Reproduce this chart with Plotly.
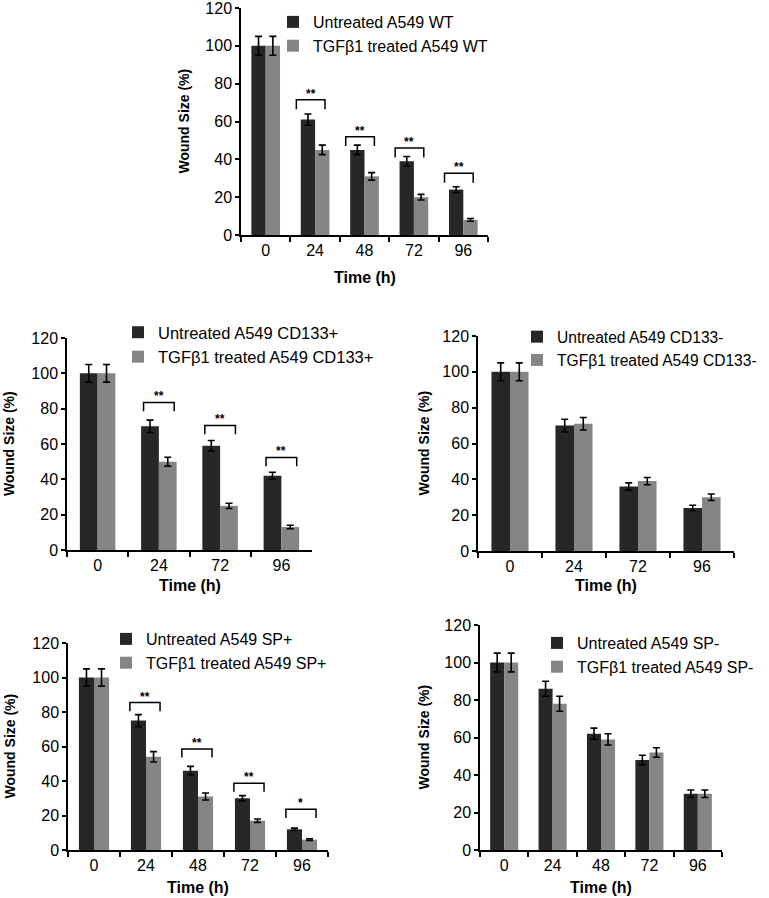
import plotly.graph_objects as go

# ---------------- data ----------------
# Panel 1: A549 WT
wt_time = ["0", "24", "48", "72", "96"]
wt_untreated = [100, 61, 45, 39, 24]
wt_untreated_err = [5, 3, 2.5, 2.5, 1.5]
wt_treated = [100, 45, 31, 20, 8]
wt_treated_err = [5, 2.5, 2, 1.5, 0.7]
wt_sig_time = ["24", "48", "72", "96"]
wt_sig_level = [71.5, 52, 46, 32.6]
wt_sig_label = ["**", "**", "**", "**"]

# Panel 2: A549 CD133+
cdp_time = ["0", "24", "72", "96"]
cdp_untreated = [100, 70, 59, 42]
cdp_untreated_err = [5, 3.5, 3, 2]
cdp_treated = [100, 50, 25, 13]
cdp_treated_err = [5, 2.5, 1.5, 1]
cdp_sig_time = ["24", "72", "96"]
cdp_sig_level = [83.5, 70.5, 52.4]
cdp_sig_label = ["**", "**", "**"]

# Panel 3: A549 CD133-
cdn_time = ["0", "24", "72", "96"]
cdn_untreated = [100, 70, 36, 24]
cdn_untreated_err = [5, 3.5, 2, 1.5]
cdn_treated = [100, 71, 39, 30]
cdn_treated_err = [5, 3.5, 2, 1.8]

# Panel 4: A549 SP+
spp_time = ["0", "24", "48", "72", "96"]
spp_untreated = [100, 75, 46, 30, 12]
spp_untreated_err = [5, 3.5, 2.5, 1.5, 0.7]
spp_treated = [100, 54, 31, 17, 6]
spp_treated_err = [5, 3, 2, 1, 0.5]
spp_sig_time = ["24", "48", "72", "96"]
spp_sig_level = [85.5, 58.6, 38.7, 23.6]
spp_sig_label = ["**", "**", "**", "*"]

# Panel 5: A549 SP-
spn_time = ["0", "24", "48", "72", "96"]
spn_untreated = [100, 86, 62, 48, 30]
spn_untreated_err = [5, 4, 3, 2.5, 2]
spn_treated = [100, 78, 59, 52, 30]
spn_treated_err = [5, 4, 3, 2.5, 2]

y_ticks = [0, 20, 40, 60, 80, 100, 120]
x_title = "Time (h)"
y_title = "Wound Size (%)"

# ---------------- style ----------------
DARK = "#272727"
GRAY = "#858585"
FONT = "Liberation Sans, Arial, sans-serif"

FW, FH = 769, 898


def px2x(px):
    return px / FW


def py2y(py):
    return 1 - py / FH


panels = [
    dict(label="WT", time=wt_time, u=wt_untreated, ue=wt_untreated_err,
         t=wt_treated, te=wt_treated_err,
         sig=(wt_sig_time, wt_sig_level, wt_sig_label), br=(-0.38, 0.2),
         px=(241, 488), py=(8, 235), leg=(313, 5), lfs=16, ytx=183, xty=277),
    dict(label="CD133+", time=cdp_time, u=cdp_untreated, ue=cdp_untreated_err,
         t=cdp_treated, te=cdp_treated_err,
         sig=(cdp_sig_time, cdp_sig_level, cdp_sig_label), br=(-0.25, 0.25),
         px=(67, 312), py=(338, 550), leg=(158, 315), lfs=16.5, ytx=9, xty=585),
    dict(label="CD133-", time=cdn_time, u=cdn_untreated, ue=cdn_untreated_err,
         t=cdn_treated, te=cdn_treated_err, sig=None, br=(-0.25, 0.25),
         px=(478, 734), py=(336, 551), leg=(557, 320), lfs=15.6, ytx=423, xty=585),
    dict(label="SP+", time=spp_time, u=spp_untreated, ue=spp_untreated_err,
         t=spp_treated, te=spp_treated_err,
         sig=(spp_sig_time, spp_sig_level, spp_sig_label), br=(-0.31, 0.27),
         px=(68, 328), py=(643, 850), leg=(146, 622), lfs=16, ytx=9, xty=887),
    dict(label="SP-", time=spn_time, u=spn_untreated, ue=spn_untreated_err,
         t=spn_treated, te=spn_treated_err, sig=None, br=(-0.25, 0.25),
         px=(480, 722), py=(625, 850), leg=(577, 626), lfs=16, ytx=423, xty=887),
]

fig = go.Figure()
layout = dict(
    width=FW, height=FH, margin=dict(l=0, r=0, t=0, b=0, pad=0, autoexpand=False),
    paper_bgcolor="white", plot_bgcolor="white",
    barmode="group", bargap=0.42, bargroupgap=0.0,
    font=dict(family=FONT, size=15, color="black"),
    showlegend=True,
)
shapes = []
annotations = []

for i, p in enumerate(panels, start=1):
    sfx = "" if i == 1 else str(i)
    xref, yref = "x" + sfx, "y" + sfx
    legname = "legend" + sfx
    for name, vals, errs, col in [
        ("Untreated A549 " + p["label"], p["u"], p["ue"], DARK),
        ("TGF\u03b21 treated A549 " + p["label"], p["t"], p["te"], GRAY),
    ]:
        fig.add_trace(go.Bar(
            x=p["time"], y=vals, name=name, marker=dict(color=col, line=dict(width=0)),
            error_y=dict(type="data", array=errs, color="black", thickness=1.6, width=3.5),
            xaxis=xref, yaxis=yref, legend=legname,
        ))
    x0, x1 = px2x(p["px"][0]), px2x(p["px"][1])
    y0, y1 = py2y(p["py"][1]), py2y(p["py"][0])
    layout["xaxis" + sfx] = dict(
        domain=[x0, x1], anchor=yref, type="category", automargin=False,
        categoryorder="array", categoryarray=p["time"],
        range=[-0.5, len(p["time"]) - 0.5], ticklabeloverflow="allow",
        showline=True, linecolor="black", linewidth=1.5,
        ticks="outside", tickson="boundaries", ticklen=5, tickwidth=1.5, tickcolor="black",
        showgrid=False, zeroline=False, tickfont=dict(size=16), fixedrange=True,
    )
    layout["yaxis" + sfx] = dict(
        domain=[y0, y1], anchor=xref, range=[0, 120], tickvals=y_ticks, automargin=False,
        ticklabeloverflow="allow",
        showline=True, linecolor="black", linewidth=1.5,
        ticks="outside", ticklen=4, tickwidth=1.5, tickcolor="black",
        showgrid=False, zeroline=False, tickfont=dict(size=16), fixedrange=True,
    )
    layout[legname] = dict(
        x=px2x(p["leg"][0] - 40), y=py2y(p["leg"][1]), xanchor="left", yanchor="top",
        bgcolor="rgba(0,0,0,0)", font=dict(size=p["lfs"], family=FONT),
        itemwidth=30, tracegroupgap=0,
    )
    # axis titles
    annotations.append(dict(
        x=px2x(p["ytx"]), y=(y0 + y1) / 2, xref="paper", yref="paper",
        text="<b>" + y_title + "</b>", textangle=-90, showarrow=False,
        font=dict(size=14, family=FONT), xanchor="center", yanchor="middle",
    ))
    annotations.append(dict(
        x=(x0 + x1) / 2, y=py2y(p["xty"]), xref="paper", yref="paper",
        text="<b>" + x_title + "</b>", showarrow=False,
        font=dict(size=16, family=FONT), xanchor="center", yanchor="middle",
    ))
    # significance brackets
    if p["sig"]:
        for t, lvl, lab in zip(*p["sig"]):
            c = p["time"].index(t)
            bx0, bx1 = c + p["br"][0], c + p["br"][1]
            shapes.append(dict(
                type="path", xref=xref, yref=yref,
                path=f"M {bx0},{lvl - 5} L {bx0},{lvl} L {bx1},{lvl} L {bx1},{lvl - 5}",
                line=dict(color="black", width=1.5),
            ))
            annotations.append(dict(
                x=(bx0 + bx1) / 2, y=lvl, xref=xref, yref=yref, text="<b>" + lab + "</b>",
                showarrow=False, yanchor="bottom", yshift=-3, font=dict(size=12, family=FONT),
            ))

layout["shapes"] = shapes
layout["annotations"] = annotations
fig.update_layout(**layout)
# remove the browser's default 8px page margin so the figure sits at the window's corner
fig.write_html("out.html", config={"displayModeBar": False},
               post_script="document.body.style.margin='0px';")
